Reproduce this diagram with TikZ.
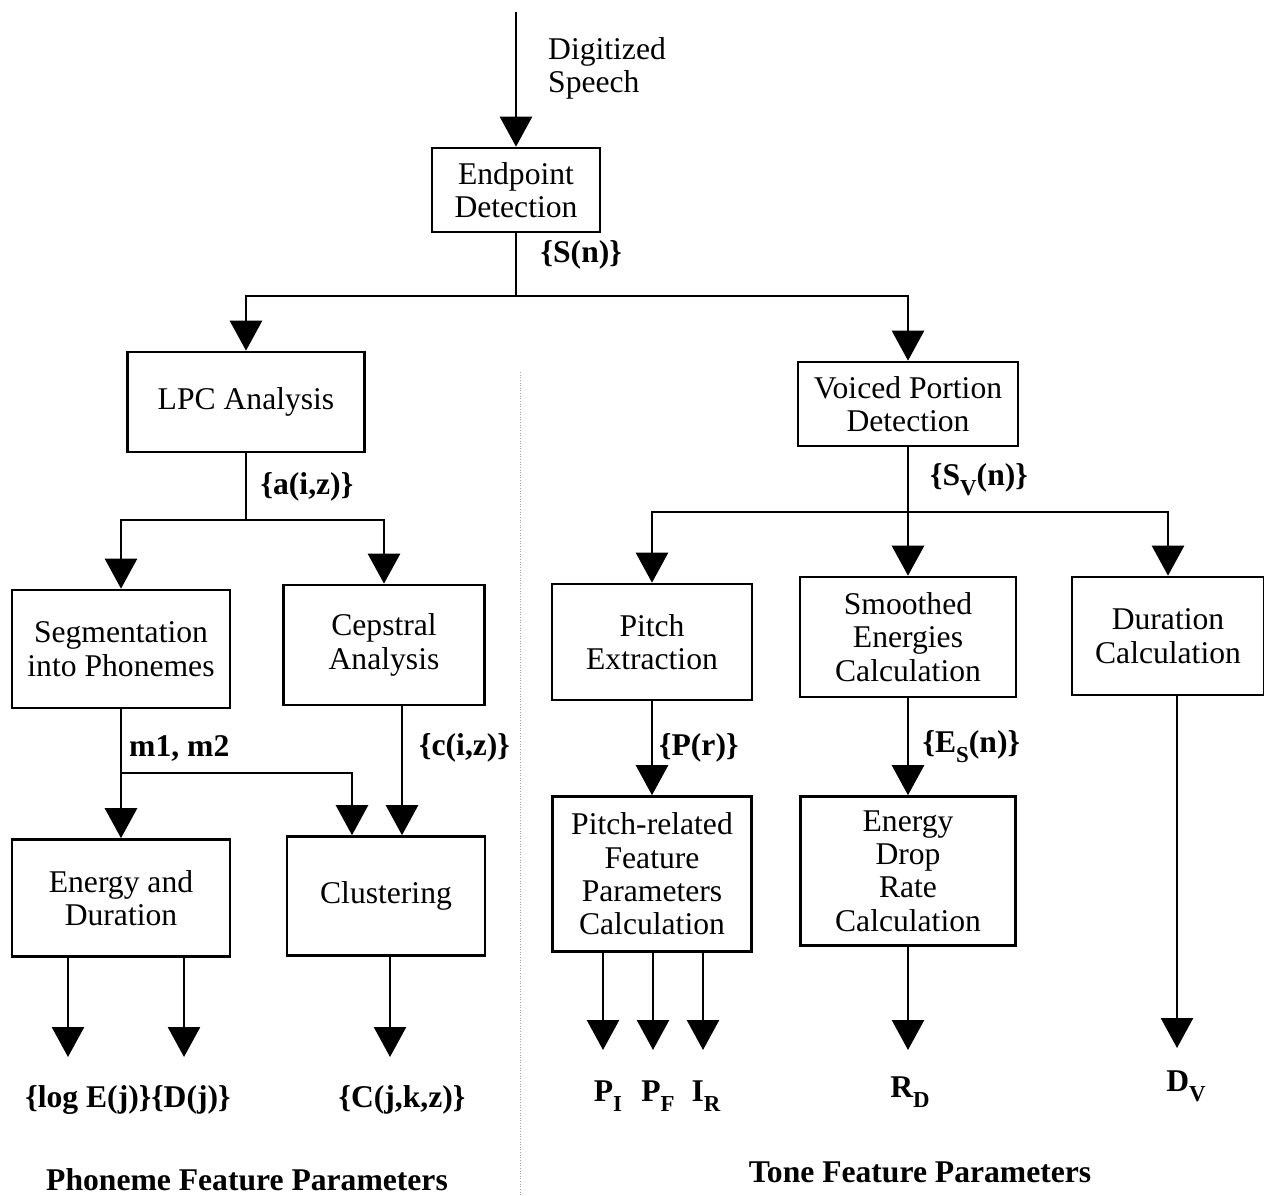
\documentclass[tikz,border=0pt]{standalone}
\usepackage{fontspec}
\setmainfont{Liberation Serif}
\usetikzlibrary{arrows.meta,positioning}
\newcommand{\lsub}[1]{\raisebox{-0.7ex}{\fontsize{13}{13}\selectfont #1}}

\begin{document}
\begin{tikzpicture}[
  x=0.02cm,y=-0.02cm,
  box/.style={draw,line width=1.5pt,align=center,inner sep=1pt,font=\fontsize{18}{19}\selectfont},
  lbl/.style={font=\bfseries\fontsize{18}{19}\selectfont},
  head/.style={font=\bfseries\fontsize{18}{20}\selectfont},
  arr/.style={-{Triangle[length=6mm,width=6.4mm]},line width=1.5pt},
  ln/.style={line width=1.5pt}
]
\useasboundingbox (0,0) rectangle (1264,1196);

% top
\coordinate (in) at (516,12);
\node[box,minimum width=3.36cm,minimum height=1.68cm] (endp) at (516,190) {Endpoint\\Detection};
\draw[arr] (in) -- node[right=0.5cm,pos=0.42,align=left,font=\fontsize{18}{19}\selectfont]{Digitized\\Speech} (endp);
\coordinate (j1) at (516,296);
\draw[ln] (endp) -- node[right=0.35cm,lbl,pos=0.35]{\{S(n)\}} (j1);

% phoneme side
\node[box,minimum width=4.74cm,minimum height=2cm] (lpc) at (246,402) {LPC Analysis};
\node[box,minimum width=4.36cm,minimum height=2.36cm] (seg) at (121,649) {Segmentation\\into Phonemes};
\node[box,minimum width=4.02cm,minimum height=2.4cm] (cep) at (384,645) {Cepstral\\Analysis};
\node[box,minimum width=4.36cm,minimum height=2.34cm] (energy) at (121,898) {Energy and\\Duration};
\node[box,minimum width=3.96cm,minimum height=2.38cm] (clust) at (386,896) {Clustering};

% tone side
\node[box,minimum width=4.4cm,minimum height=1.68cm] (voiced) at (908,404) {Voiced Portion\\Detection};
\node[box,minimum width=4cm,minimum height=2.32cm] (pitch) at (652,642) {Pitch\\Extraction};
\node[box,minimum width=4.32cm,minimum height=2.4cm] (smooth) at (908,637) {Smoothed\\Energies\\Calculation};
\node[box,minimum width=3.84cm,minimum height=2.36cm] (dur) at (1168,636) {Duration\\Calculation};
\node[box,minimum width=3.98cm,minimum height=3.1cm] (prel) at (652,874) {Pitch-related\\Feature\\Parameters\\Calculation};
\node[box,minimum width=4.3cm,minimum height=2.98cm] (edrop) at (908,871) {Energy\\Drop\\Rate\\Calculation};

\draw[arr] (j1) -| (lpc);
\draw[arr] (j1) -| (voiced);

% LPC branch
\coordinate (j2) at (246,520);
\draw[ln] (lpc) -- node[right=0.15cm,lbl]{\{a(i,z)\}} (j2);
\draw[arr] (j2) -| (seg);
\draw[arr] (j2) -| (cep);

\coordinate (m) at (121,773);
\draw[arr] (seg) -- (energy);
\node[lbl,right] at (123,748) {m1, m2};
\draw[arr] (m) -| (clust.north -| 352,0);
\draw[arr] (cep.south -| 402,0) -- node[right=0.2cm,lbl,pos=0.32]{\{c(i,z)\}} (clust.north -| 402,0);

% phoneme outputs
\coordinate (oe) at (68,1057);
\coordinate (od) at (184,1057);
\coordinate (oc) at (390,1057);
\draw[arr] (energy.south -| oe) -- (oe);
\draw[arr] (energy.south -| od) -- (od);
\draw[arr] (clust.south -| oc) -- (oc);
\node[lbl] (te) at (128,1100) {\{log E(j)\}\{D(j)\}};
\node[lbl] (tc) at (402,1100) {\{C(j,k,z)\}};
\node[head] (hp) at (247,1180) {Phoneme Feature Parameters};

% voiced branch
\coordinate (j3) at (908,512);
\draw[ln] (voiced) -- node[right=0.3cm,lbl]{\{S\lsub{V}(n)\}} (j3);
\draw[arr] (j3) -| (pitch);
\draw[arr] (j3) -- (smooth);
\draw[arr] (j3) -| (dur);
\draw[arr] (pitch) -- node[right,lbl]{\{P(r)\}} (prel);
\draw[arr] (smooth) -- node[right=0.15cm,lbl]{\{E\lsub{S}(n)\}} (edrop);

% tone outputs
\coordinate (opi) at (603,1050);
\coordinate (opf) at (653,1050);
\coordinate (oir) at (703,1050);
\coordinate (ord) at (908,1050);
\coordinate (odv) at (1177,1048);
\draw[arr] (prel.south -| opi) -- (opi);
\draw[arr] (prel.south -| opf) -- (opf);
\draw[arr] (prel.south -| oir) -- (oir);
\draw[arr] (edrop) -- (ord);
\draw[arr] (dur.south -| odv) -- (odv);
\node[lbl] (tpi) at (608,1096) {P\lsub{I}};
\node[lbl] (tpf) at (658,1096) {P\lsub{F}};
\node[lbl] (tir) at (706,1096) {I\lsub{R}};
\node[lbl] (trd) at (910,1092) {R\lsub{D}};
\node[lbl] (tdv) at (1186,1086) {D\lsub{V}};
\node[head] (ht) at (920,1172) {Tone Feature Parameters};

% divider
\draw[gray!70,densely dotted,line width=0.5pt] (520,372) -- (520,1196);
\end{tikzpicture}
\end{document}
